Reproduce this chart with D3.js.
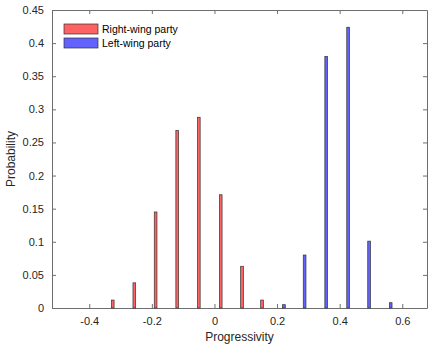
<!DOCTYPE html>
<html>
<head>
<meta charset="utf-8">
<script src="https://cdn.jsdelivr.net/npm/d3@7"></script>
<style>
  body { margin: 0; background: #fff; }
  #graf { width: 428px; height: 345px; }
  .ejes text { font-family: Arial, "Liberation Sans", sans-serif; font-size: 11px; fill: #262626; }
  .ejes path, .ejes line { stroke: #6e6e6e; }
</style>
</head>
<body>
<div id="graf"></div>
<script>
// bin centres and probabilities per party
const rightX = [-0.325, -0.256, -0.188, -0.119, -0.050, 0.020, 0.088, 0.152]
const rightP = [0.012, 0.038, 0.145, 0.268, 0.288, 0.171, 0.063, 0.012]
const leftX = [0.222, 0.288, 0.357, 0.427, 0.494, 0.563]
const leftP = [0.005, 0.080, 0.380, 0.424, 0.101, 0.008]
const xTicks = [-0.4, -0.2, 0, 0.2, 0.4, 0.6]
const yTicks = [0, 0.05, 0.1, 0.15, 0.2, 0.25, 0.3, 0.35, 0.4, 0.45]
const legendNames = ['Right-wing party', 'Left-wing party']

const anchoTotal = 428
const altoTotal = 345
const margin = { top: 10, bottom: 37, left: 52, right: 1 }
const ancho = anchoTotal - margin.left - margin.right
const alto = altoTotal - margin.top - margin.bottom

const svg = d3.select('#graf').append('svg')
  .attr('width', anchoTotal)
  .attr('height', altoTotal)

const g = svg.append('g')
  .attr('transform', `translate(${margin.left}, ${margin.top})`)

const x = d3.scaleLinear().domain([-0.519, 0.679]).range([0, ancho])
const y = d3.scaleLinear().domain([0, 0.45]).range([alto, 0])

const fmt = d => d === 0 ? '0' : String(d)

// box: bottom / left with labels, top / right without
g.append('g').attr('class', 'ejes')
  .attr('transform', `translate(0, ${alto})`)
  .call(d3.axisBottom(x).tickValues(xTicks).tickSize(-4).tickPadding(9).tickSizeOuter(0).tickFormat(fmt))
g.append('g').attr('class', 'ejes')
  .call(d3.axisTop(x).tickValues(xTicks).tickSize(-4).tickSizeOuter(0).tickFormat(''))
g.append('g').attr('class', 'ejes')
  .call(d3.axisLeft(y).tickValues(yTicks).tickSize(-4).tickPadding(8).tickSizeOuter(0).tickFormat(fmt))
g.append('g').attr('class', 'ejes')
  .attr('transform', `translate(${ancho}, 0)`)
  .call(d3.axisRight(y).tickValues(yTicks).tickSize(-4).tickSizeOuter(0).tickFormat(''))

const barW = 2.7
const series = [
  { xs: rightX, ps: rightP, fill: '#ff6262' },
  { xs: leftX, ps: leftP, fill: '#6262ff' }
]
series.forEach(s => {
  g.selectAll(null).data(s.xs.map((v, i) => ({ v, p: s.ps[i] })))
    .enter().append('rect')
    .attr('x', d => x(d.v) - barW / 2)
    .attr('y', d => y(d.p))
    .attr('width', barW)
    .attr('height', d => alto - y(d.p))
    .attr('fill', s.fill)
    .attr('stroke', '#333')
    .attr('stroke-width', 0.7)
})

// legend
const leg = g.append('g').attr('transform', 'translate(12, 14)')
legendNames.forEach((name, i) => {
  leg.append('rect')
    .attr('x', 0).attr('y', i * 14)
    .attr('width', 34).attr('height', 10)
    .attr('fill', series[i].fill)
    .attr('stroke', '#333').attr('stroke-width', 0.7)
  leg.append('text')
    .attr('x', 38).attr('y', i * 14 + 9)
    .attr('font-family', 'Arial, "Liberation Sans", sans-serif')
    .attr('font-size', 10.5)
    .attr('fill', '#000')
    .text(name)
})

svg.append('text')
  .attr('x', margin.left + ancho / 2).attr('y', 341)
  .attr('text-anchor', 'middle')
  .attr('font-family', 'Arial, "Liberation Sans", sans-serif')
  .attr('font-size', 12).attr('fill', '#262626')
  .text('Progressivity')

svg.append('text')
  .attr('transform', `translate(15, ${margin.top + alto / 2}) rotate(-90)`)
  .attr('text-anchor', 'middle')
  .attr('font-family', 'Arial, "Liberation Sans", sans-serif')
  .attr('font-size', 12).attr('fill', '#262626')
  .text('Probability')
</script>
</body>
</html>
